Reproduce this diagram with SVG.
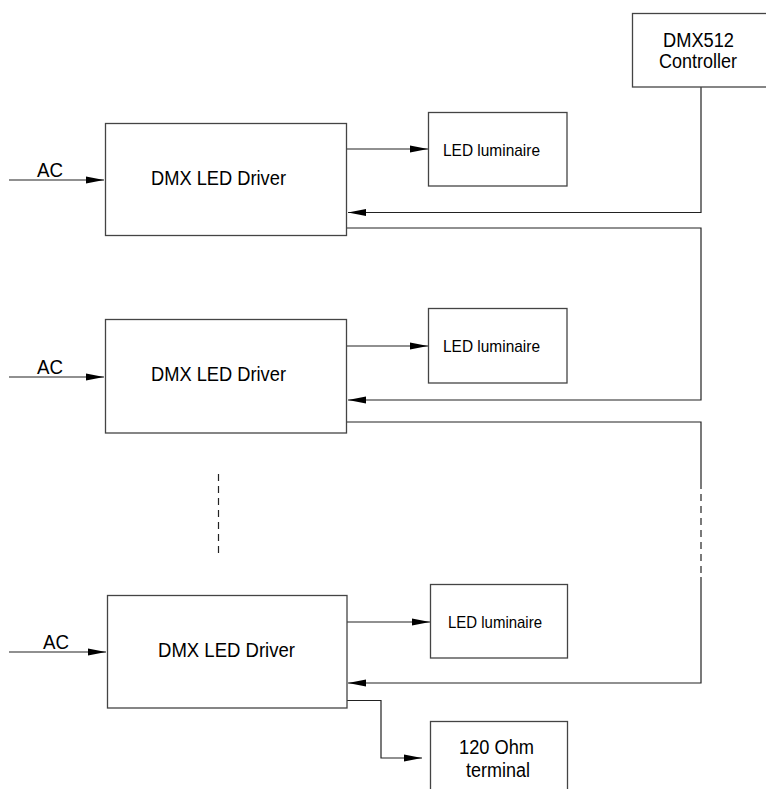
<svg xmlns="http://www.w3.org/2000/svg" width="766" height="789" viewBox="0 0 766 789">
<style>
.box{fill:#fff;stroke:#444;stroke-width:1.3}
.ln{fill:none;stroke:#222;stroke-width:1.2}
.dash{fill:none;stroke:#222;stroke-width:1.2;stroke-dasharray:7 5}
.t{font-family:"Liberation Sans",Arial,sans-serif;fill:#000}
.big{font-size:21px}
.mid{font-size:20px}
.sm{font-size:17px}
</style>
<defs>
<marker id="ah" markerUnits="userSpaceOnUse" markerWidth="18" markerHeight="8" refX="18" refY="4" orient="auto">
<path d="M0,0.6 L18,4 L0,7.4 Z" fill="#000"/>
</marker>
</defs>
<g id="connectors">
<line class="ln" x1="9" y1="180" x2="104" y2="180" marker-end="url(#ah)"/>
<line class="ln" x1="9" y1="377" x2="104" y2="377" marker-end="url(#ah)"/>
<line class="ln" x1="9" y1="652" x2="106" y2="652" marker-end="url(#ah)"/>
<line class="ln" x1="347" y1="149" x2="428" y2="149" marker-end="url(#ah)"/>
<line class="ln" x1="347" y1="346" x2="428" y2="346" marker-end="url(#ah)"/>
<line class="ln" x1="347" y1="622" x2="430" y2="622" marker-end="url(#ah)"/>
<polyline class="ln" points="701,87 701,212.5 348,212.5" marker-end="url(#ah)"/>
<polyline class="ln" points="347,228 701,228 701,400 348,400" marker-end="url(#ah)"/>
<polyline class="ln" points="347,422 701,422 701,482"/>
<line class="dash" x1="701" y1="482" x2="701" y2="577"/>
<polyline class="ln" points="701,577 701,683 348,683" marker-end="url(#ah)"/>
<line class="dash" x1="218.5" y1="474" x2="218.5" y2="556"/>
<polyline class="ln" points="347,700.5 381,700.5 381,758 422,758" marker-end="url(#ah)"/>
</g>
<g id="controller">
<rect class="box" x="632.5" y="13.5" width="140" height="73.5"/>
<text class="t mid" x="663" y="47" textLength="71" lengthAdjust="spacingAndGlyphs">DMX512</text>
<text class="t mid" x="659" y="68" textLength="78" lengthAdjust="spacingAndGlyphs">Controller</text>
</g>
<g id="driver1">
<rect class="box" x="105.5" y="123.5" width="241" height="112"/>
<text class="t big" x="151" y="185" textLength="135" lengthAdjust="spacingAndGlyphs">DMX LED Driver</text>
</g>
<g id="driver2">
<rect class="box" x="105.5" y="319.5" width="241" height="113.5"/>
<text class="t big" x="151" y="381" textLength="135" lengthAdjust="spacingAndGlyphs">DMX LED Driver</text>
</g>
<g id="driver3">
<rect class="box" x="107.5" y="595.5" width="239.5" height="112.5"/>
<text class="t big" x="158" y="657" textLength="137" lengthAdjust="spacingAndGlyphs">DMX LED Driver</text>
</g>
<g id="lum1">
<rect class="box" x="428.5" y="112.5" width="138.5" height="73.5"/>
<text class="t sm" x="443" y="156" textLength="97" lengthAdjust="spacingAndGlyphs">LED luminaire</text>
</g>
<g id="lum2">
<rect class="box" x="428.5" y="308.5" width="138.5" height="74.5"/>
<text class="t sm" x="443" y="352" textLength="97" lengthAdjust="spacingAndGlyphs">LED luminaire</text>
</g>
<g id="lum3">
<rect class="box" x="430.5" y="584.5" width="137" height="73.5"/>
<text class="t sm" x="448" y="628" textLength="94" lengthAdjust="spacingAndGlyphs">LED luminaire</text>
</g>
<g id="terminal">
<rect class="box" x="430.5" y="721.5" width="137" height="80"/>
<text class="t mid" x="459" y="754" textLength="75" lengthAdjust="spacingAndGlyphs">120 Ohm</text>
<text class="t mid" x="466" y="777" textLength="64" lengthAdjust="spacingAndGlyphs">terminal</text>
</g>
<g id="labels">
<text class="t big" x="37" y="177" textLength="26" lengthAdjust="spacingAndGlyphs">AC</text>
<text class="t big" x="37" y="374" textLength="26" lengthAdjust="spacingAndGlyphs">AC</text>
<text class="t big" x="43" y="649" textLength="26" lengthAdjust="spacingAndGlyphs">AC</text>
</g>
</svg>
